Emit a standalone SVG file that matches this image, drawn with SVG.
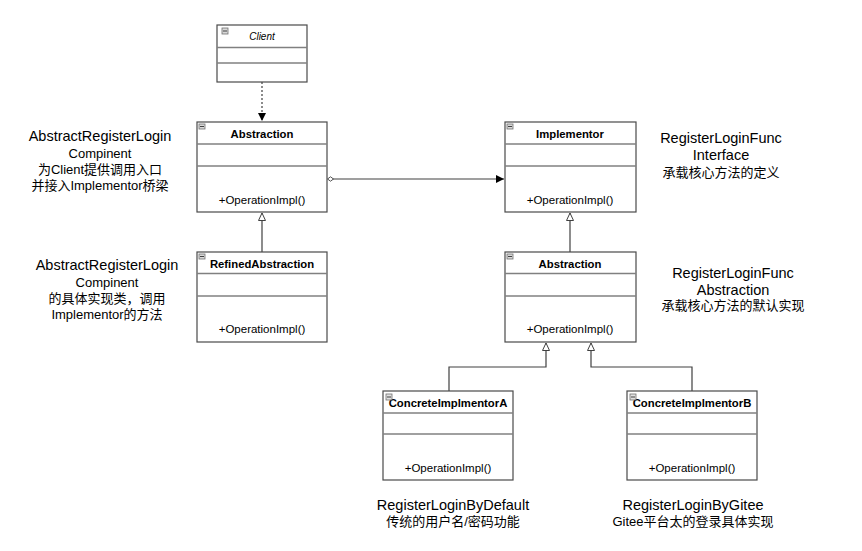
<svg xmlns="http://www.w3.org/2000/svg" width="862" height="551" viewBox="0 0 862 551">
<style>
.box{fill:#fff;stroke:#4a4a4a;stroke-width:1.2}
.div{stroke:#808080;stroke-width:1.5}
.name{font-family:"Liberation Sans",Arial,sans-serif;font-size:11.3px;font-weight:bold;text-anchor:middle;fill:#000}
.op{font-family:"Liberation Sans",Arial,sans-serif;font-size:11.5px;text-anchor:middle;fill:#000}
.ico{fill:#d8d8d8;stroke:#707070;stroke-width:0.8}
.icl{stroke:#404040;stroke-width:1}
.conn{stroke:#404040;stroke-width:1.2;fill:none}
.lbl{font-family:"Liberation Sans",Arial,"Noto Sans CJK SC",sans-serif;text-anchor:middle;fill:#000}
.big{font-size:14.5px}
.sm{font-size:13px}
</style>
<defs>
<marker id="filled" markerWidth="10" markerHeight="10" refX="8" refY="4" orient="auto" markerUnits="userSpaceOnUse">
<path d="M0,0 L8,4 L0,8 Z" fill="#000"/>
</marker>
<marker id="hollow" markerWidth="12" markerHeight="12" refX="8" refY="4" orient="auto" markerUnits="userSpaceOnUse">
<path d="M0.5,0.5 L8,4 L0.5,7.5 Z" fill="#fff" stroke="#404040" stroke-width="1"/>
</marker>
<marker id="diamond" markerWidth="10" markerHeight="8" refX="1" refY="3" orient="auto" markerUnits="userSpaceOnUse">
<path d="M0.5,3 L3.5,0.8 L6.5,3 L3.5,5.2 Z" fill="#fff" stroke="#404040" stroke-width="0.9"/>
</marker>
</defs>
<rect width="862" height="551" fill="#fff"/>

<g id="connectors">
<line class="conn" x1="262" y1="82" x2="262" y2="121" stroke-dasharray="2,2" marker-end="url(#filled)"/>
<line class="conn" x1="328" y1="179" x2="504" y2="179" marker-start="url(#diamond)" marker-end="url(#filled)"/>
<line class="conn" x1="262" y1="252" x2="262" y2="213" marker-end="url(#hollow)"/>
<line class="conn" x1="570" y1="252" x2="570" y2="213" marker-end="url(#hollow)"/>
<polyline class="conn" points="449,391 449,367 546,367 546,343" marker-end="url(#hollow)"/>
<polyline class="conn" points="692,391 692,367 591,367 591,343" marker-end="url(#hollow)"/>
</g>

<g id="client">
<rect class="box" x="217" y="25" width="90" height="57"/>
<line class="div" x1="217" y1="47.5" x2="307" y2="47.5"/>
<line class="div" x1="217" y1="63" x2="307" y2="63"/>
<rect class="ico" x="222" y="28" width="6" height="6"/><line class="icl" x1="223" y1="31" x2="227" y2="31"/>
<text x="262" y="40" font-family="Liberation Sans, Arial, sans-serif" font-size="10" font-style="italic" text-anchor="middle">Client</text>
</g>

<g id="abstraction">
<rect class="box" x="197" y="122" width="130" height="90"/>
<line class="div" x1="197" y1="144" x2="327" y2="144"/>
<line class="div" x1="197" y1="166" x2="327" y2="166"/>
<rect class="ico" x="199" y="124" width="6" height="5"/><line class="icl" x1="200" y1="126.5" x2="204" y2="126.5"/>
<text class="name" x="262" y="138">Abstraction</text>
<text class="op" x="262" y="204">+OperationImpl()</text>
</g>

<g id="implementor">
<rect class="box" x="505" y="122" width="131" height="90"/>
<line class="div" x1="505" y1="144" x2="636" y2="144"/>
<line class="div" x1="505" y1="166" x2="636" y2="166"/>
<rect class="ico" x="507" y="124" width="6" height="5"/><line class="icl" x1="508" y1="126.5" x2="512" y2="126.5"/>
<text class="name" x="570" y="138">Implementor</text>
<text class="op" x="570" y="204">+OperationImpl()</text>
</g>

<g id="refinedAbstraction">
<rect class="box" x="197" y="252" width="130" height="90"/>
<line class="div" x1="197" y1="273.5" x2="327" y2="273.5"/>
<line class="div" x1="197" y1="296" x2="327" y2="296"/>
<rect class="ico" x="199" y="254" width="6" height="5"/><line class="icl" x1="200" y1="256.5" x2="204" y2="256.5"/>
<text class="name" x="262" y="268">RefinedAbstraction</text>
<text class="op" x="262" y="333">+OperationImpl()</text>
</g>

<g id="implAbstraction">
<rect class="box" x="505" y="252" width="131" height="90"/>
<line class="div" x1="505" y1="273.5" x2="636" y2="273.5"/>
<line class="div" x1="505" y1="296" x2="636" y2="296"/>
<rect class="ico" x="507" y="254" width="6" height="5"/><line class="icl" x1="508" y1="256.5" x2="512" y2="256.5"/>
<text class="name" x="570" y="268">Abstraction</text>
<text class="op" x="570" y="333">+OperationImpl()</text>
</g>

<g id="concreteA">
<rect class="box" x="383" y="391" width="130" height="89"/>
<line class="div" x1="383" y1="413" x2="513" y2="413"/>
<line class="div" x1="383" y1="434" x2="513" y2="434"/>
<text class="name" x="448" y="407">ConcreteImplmentorA</text>
<rect class="ico" x="386" y="394" width="6" height="6" fill-opacity="0.8"/><line class="icl" x1="387" y1="397" x2="391" y2="397"/>
<text class="op" x="448" y="472">+OperationImpl()</text>
</g>

<g id="concreteB">
<rect class="box" x="627" y="391" width="130" height="89"/>
<line class="div" x1="627" y1="413" x2="757" y2="413"/>
<line class="div" x1="627" y1="434" x2="757" y2="434"/>
<text class="name" x="692" y="407">ConcreteImplmentorB</text>
<rect class="ico" x="630" y="394" width="6" height="6" fill-opacity="0.8"/><line class="icl" x1="631" y1="397" x2="635" y2="397"/>
<text class="op" x="692" y="472">+OperationImpl()</text>
</g>

<g id="labels">
<text class="lbl big" x="100" y="141">AbstractRegisterLogin</text>
<text class="lbl sm" x="100" y="157.5">Compinent</text>
<text class="lbl sm" x="100" y="174">为Client提供调用入口</text>
<text class="lbl sm" x="100" y="190">并接入Implementor桥梁</text>

<text class="lbl big" x="107" y="270">AbstractRegisterLogin</text>
<text class="lbl sm" x="107" y="286.5">Compinent</text>
<text class="lbl sm" x="107" y="303">的具体实现类，调用</text>
<text class="lbl sm" x="107" y="319">Implementor的方法</text>

<text class="lbl big" x="721" y="143">RegisterLoginFunc</text>
<text class="lbl big" x="721" y="160">Interface</text>
<text class="lbl sm" x="721" y="177">承载核心方法的定义</text>

<text class="lbl big" x="733" y="278">RegisterLoginFunc</text>
<text class="lbl big" x="733" y="295">Abstraction</text>
<text class="lbl sm" x="733" y="310">承载核心方法的默认实现</text>

<text class="lbl big" x="453" y="510">RegisterLoginByDefault</text>
<text class="lbl sm" x="453" y="526">传统的用户名/密码功能</text>

<text class="lbl big" x="693" y="510">RegisterLoginByGitee</text>
<text class="lbl sm" x="693" y="526">Gitee平台太的登录具体实现</text>
</g>
</svg>
